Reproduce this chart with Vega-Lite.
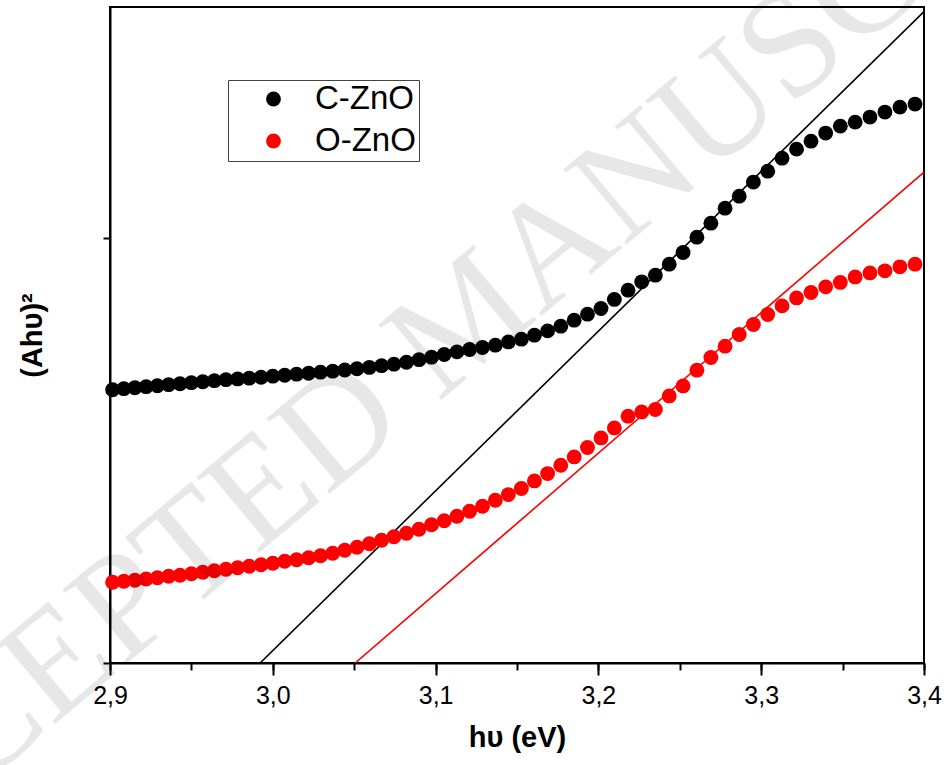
{
  "$schema": "https://vega.github.io/schema/vega-lite/v6.json",
  "width": 814,
  "height": 656,
  "autosize": "none",
  "padding": {"left": 110, "top": 7, "right": 22, "bottom": 102},
  "background": "white",
  "config": {
    "view": {"stroke": "black", "strokeWidth": 2},
    "font": "Liberation Sans"
  },
  "datasets": {
    "points": [
      {"series": "C-ZnO", "hv": 3.3945, "A": 131.46},
      {"series": "C-ZnO", "hv": 3.3852, "A": 130.75},
      {"series": "C-ZnO", "hv": 3.3760, "A": 129.58},
      {"series": "C-ZnO", "hv": 3.3668, "A": 128.40},
      {"series": "C-ZnO", "hv": 3.3577, "A": 127.22},
      {"series": "C-ZnO", "hv": 3.3486, "A": 126.28},
      {"series": "C-ZnO", "hv": 3.3396, "A": 124.64},
      {"series": "C-ZnO", "hv": 3.3306, "A": 122.75},
      {"series": "C-ZnO", "hv": 3.3217, "A": 120.87},
      {"series": "C-ZnO", "hv": 3.3128, "A": 118.75},
      {"series": "C-ZnO", "hv": 3.3040, "A": 115.69},
      {"series": "C-ZnO", "hv": 3.2952, "A": 113.11},
      {"series": "C-ZnO", "hv": 3.2865, "A": 109.81},
      {"series": "C-ZnO", "hv": 3.2778, "A": 106.99},
      {"series": "C-ZnO", "hv": 3.2691, "A": 103.46},
      {"series": "C-ZnO", "hv": 3.2605, "A": 100.16},
      {"series": "C-ZnO", "hv": 3.2520, "A": 96.56},
      {"series": "C-ZnO", "hv": 3.2435, "A": 93.81},
      {"series": "C-ZnO", "hv": 3.2350, "A": 91.22},
      {"series": "C-ZnO", "hv": 3.2266, "A": 89.65},
      {"series": "C-ZnO", "hv": 3.2182, "A": 87.69},
      {"series": "C-ZnO", "hv": 3.2098, "A": 85.51},
      {"series": "C-ZnO", "hv": 3.2016, "A": 83.39},
      {"series": "C-ZnO", "hv": 3.1933, "A": 82.05},
      {"series": "C-ZnO", "hv": 3.1851, "A": 80.64},
      {"series": "C-ZnO", "hv": 3.1769, "A": 79.22},
      {"series": "C-ZnO", "hv": 3.1688, "A": 78.12},
      {"series": "C-ZnO", "hv": 3.1607, "A": 77.11},
      {"series": "C-ZnO", "hv": 3.1527, "A": 76.16},
      {"series": "C-ZnO", "hv": 3.1447, "A": 75.53},
      {"series": "C-ZnO", "hv": 3.1367, "A": 74.75},
      {"series": "C-ZnO", "hv": 3.1288, "A": 74.21},
      {"series": "C-ZnO", "hv": 3.1209, "A": 73.74},
      {"series": "C-ZnO", "hv": 3.1131, "A": 73.18},
      {"series": "C-ZnO", "hv": 3.1053, "A": 72.56},
      {"series": "C-ZnO", "hv": 3.0975, "A": 71.93},
      {"series": "C-ZnO", "hv": 3.0898, "A": 71.34},
      {"series": "C-ZnO", "hv": 3.0821, "A": 70.75},
      {"series": "C-ZnO", "hv": 3.0744, "A": 70.28},
      {"series": "C-ZnO", "hv": 3.0668, "A": 69.93},
      {"series": "C-ZnO", "hv": 3.0593, "A": 69.53},
      {"series": "C-ZnO", "hv": 3.0517, "A": 69.22},
      {"series": "C-ZnO", "hv": 3.0442, "A": 68.92},
      {"series": "C-ZnO", "hv": 3.0368, "A": 68.64},
      {"series": "C-ZnO", "hv": 3.0293, "A": 68.40},
      {"series": "C-ZnO", "hv": 3.0220, "A": 68.16},
      {"series": "C-ZnO", "hv": 3.0146, "A": 67.93},
      {"series": "C-ZnO", "hv": 3.0073, "A": 67.69},
      {"series": "C-ZnO", "hv": 3.0000, "A": 67.46},
      {"series": "C-ZnO", "hv": 2.9928, "A": 67.22},
      {"series": "C-ZnO", "hv": 2.9855, "A": 66.99},
      {"series": "C-ZnO", "hv": 2.9784, "A": 66.82},
      {"series": "C-ZnO", "hv": 2.9712, "A": 66.64},
      {"series": "C-ZnO", "hv": 2.9641, "A": 66.40},
      {"series": "C-ZnO", "hv": 2.9570, "A": 66.16},
      {"series": "C-ZnO", "hv": 2.9500, "A": 65.93},
      {"series": "C-ZnO", "hv": 2.9430, "A": 65.69},
      {"series": "C-ZnO", "hv": 2.9360, "A": 65.46},
      {"series": "C-ZnO", "hv": 2.9291, "A": 65.22},
      {"series": "C-ZnO", "hv": 2.9222, "A": 64.99},
      {"series": "C-ZnO", "hv": 2.9153, "A": 64.75},
      {"series": "C-ZnO", "hv": 2.9085, "A": 64.52},
      {"series": "C-ZnO", "hv": 2.9016, "A": 64.28},
      {"series": "O-ZnO", "hv": 3.3945, "A": 93.81},
      {"series": "O-ZnO", "hv": 3.3852, "A": 93.18},
      {"series": "O-ZnO", "hv": 3.3760, "A": 92.24},
      {"series": "O-ZnO", "hv": 3.3668, "A": 91.76},
      {"series": "O-ZnO", "hv": 3.3577, "A": 90.82},
      {"series": "O-ZnO", "hv": 3.3486, "A": 89.51},
      {"series": "O-ZnO", "hv": 3.3396, "A": 88.47},
      {"series": "O-ZnO", "hv": 3.3306, "A": 87.15},
      {"series": "O-ZnO", "hv": 3.3217, "A": 85.88},
      {"series": "O-ZnO", "hv": 3.3128, "A": 84.00},
      {"series": "O-ZnO", "hv": 3.3040, "A": 81.98},
      {"series": "O-ZnO", "hv": 3.2952, "A": 79.62},
      {"series": "O-ZnO", "hv": 3.2865, "A": 77.27},
      {"series": "O-ZnO", "hv": 3.2778, "A": 74.52},
      {"series": "O-ZnO", "hv": 3.2691, "A": 71.86},
      {"series": "O-ZnO", "hv": 3.2605, "A": 68.87},
      {"series": "O-ZnO", "hv": 3.2520, "A": 65.18},
      {"series": "O-ZnO", "hv": 3.2435, "A": 62.82},
      {"series": "O-ZnO", "hv": 3.2350, "A": 59.62},
      {"series": "O-ZnO", "hv": 3.2266, "A": 59.06},
      {"series": "O-ZnO", "hv": 3.2182, "A": 58.05},
      {"series": "O-ZnO", "hv": 3.2098, "A": 55.29},
      {"series": "O-ZnO", "hv": 3.2016, "A": 52.94},
      {"series": "O-ZnO", "hv": 3.1933, "A": 50.68},
      {"series": "O-ZnO", "hv": 3.1851, "A": 48.47},
      {"series": "O-ZnO", "hv": 3.1769, "A": 46.52},
      {"series": "O-ZnO", "hv": 3.1688, "A": 44.56},
      {"series": "O-ZnO", "hv": 3.1607, "A": 42.82},
      {"series": "O-ZnO", "hv": 3.1527, "A": 41.04},
      {"series": "O-ZnO", "hv": 3.1447, "A": 39.62},
      {"series": "O-ZnO", "hv": 3.1367, "A": 38.28},
      {"series": "O-ZnO", "hv": 3.1288, "A": 36.87},
      {"series": "O-ZnO", "hv": 3.1209, "A": 35.69},
      {"series": "O-ZnO", "hv": 3.1131, "A": 34.52},
      {"series": "O-ZnO", "hv": 3.1053, "A": 33.46},
      {"series": "O-ZnO", "hv": 3.0975, "A": 32.52},
      {"series": "O-ZnO", "hv": 3.0898, "A": 31.46},
      {"series": "O-ZnO", "hv": 3.0821, "A": 30.52},
      {"series": "O-ZnO", "hv": 3.0744, "A": 29.69},
      {"series": "O-ZnO", "hv": 3.0668, "A": 28.87},
      {"series": "O-ZnO", "hv": 3.0593, "A": 28.05},
      {"series": "O-ZnO", "hv": 3.0517, "A": 27.22},
      {"series": "O-ZnO", "hv": 3.0442, "A": 26.52},
      {"series": "O-ZnO", "hv": 3.0368, "A": 25.81},
      {"series": "O-ZnO", "hv": 3.0293, "A": 25.22},
      {"series": "O-ZnO", "hv": 3.0220, "A": 24.75},
      {"series": "O-ZnO", "hv": 3.0146, "A": 24.28},
      {"series": "O-ZnO", "hv": 3.0073, "A": 23.93},
      {"series": "O-ZnO", "hv": 3.0000, "A": 23.46},
      {"series": "O-ZnO", "hv": 2.9928, "A": 23.11},
      {"series": "O-ZnO", "hv": 2.9855, "A": 22.75},
      {"series": "O-ZnO", "hv": 2.9784, "A": 22.40},
      {"series": "O-ZnO", "hv": 2.9712, "A": 22.05},
      {"series": "O-ZnO", "hv": 2.9641, "A": 21.69},
      {"series": "O-ZnO", "hv": 2.9570, "A": 21.34},
      {"series": "O-ZnO", "hv": 2.9500, "A": 20.99},
      {"series": "O-ZnO", "hv": 2.9430, "A": 20.64},
      {"series": "O-ZnO", "hv": 2.9360, "A": 20.40},
      {"series": "O-ZnO", "hv": 2.9291, "A": 20.05},
      {"series": "O-ZnO", "hv": 2.9222, "A": 19.76},
      {"series": "O-ZnO", "hv": 2.9153, "A": 19.46},
      {"series": "O-ZnO", "hv": 2.9085, "A": 19.22},
      {"series": "O-ZnO", "hv": 2.9016, "A": 18.99}
    ],
    "fits": [
      {"series": "C-ZnO", "hv": 2.9922, "A": 0},
      {"series": "C-ZnO", "hv": 3.4, "A": 153.2},
      {"series": "O-ZnO", "hv": 3.0506, "A": 0},
      {"series": "O-ZnO", "hv": 3.4, "A": 115.46}
    ],
    "watermark": [
      {"label": "ACCEPTED MANUSCRIPT"}
    ]
  },
  "resolve": {"axis": {"x": "independent", "y": "independent"}, "legend": {"color": "independent"}},
  "layer": [
    {
      "data": {"name": "fits"},
      "mark": {"type": "line", "strokeWidth": 1.6, "clip": true},
      "encoding": {
        "x": {
          "field": "hv", "type": "quantitative",
          "scale": {"domain": [2.9, 3.4], "nice": false, "zero": false},
          "axis": {
            "orient": "bottom",
            "values": [2.9, 2.95, 3.0, 3.05, 3.1, 3.15, 3.2, 3.25, 3.3, 3.35, 3.4],
            "labels": false, "domain": false, "grid": false,
            "tickSize": 7, "tickWidth": 2, "tickColor": "black", "title": null
          }
        },
        "y": {
          "field": "A", "type": "quantitative",
          "scale": {"domain": [0, 154.3], "nice": false, "zero": false},
          "axis": null
        },
        "color": {
          "field": "series", "type": "nominal",
          "scale": {"domain": ["C-ZnO", "O-ZnO"], "range": ["#000000", "#ff0000"]},
          "legend": null
        }
      }
    },
    {
      "data": {"name": "points"},
      "mark": {"type": "point", "filled": true, "size": 220, "opacity": 1, "strokeWidth": 0},
      "encoding": {
        "x": {
          "field": "hv", "type": "quantitative",
          "scale": {"domain": [2.9, 3.4], "nice": false, "zero": false},
          "axis": {
            "orient": "bottom",
            "values": [2.9, 3.0, 3.1, 3.2, 3.3, 3.4],
            "labelExpr": "replace(format(datum.value, '.1f'), '.', ',')",
            "grid": false,
            "domainColor": "black", "domainWidth": 2,
            "tickSize": 12, "tickWidth": 2, "tickColor": "black",
            "labelFontSize": 25, "labelColor": "black", "labelPadding": 8,
            "labelFlush": false,
            "title": "hυ (eV)",
            "titleFontSize": 29, "titleFontWeight": "bold", "titleColor": "black",
            "titlePadding": 15
          }
        },
        "y": {
          "field": "A", "type": "quantitative",
          "scale": {"domain": [0, 154.3], "nice": false, "zero": false},
          "axis": {
            "orient": "left",
            "values": [0, 100],
            "labels": false, "grid": false,
            "domainColor": "black", "domainWidth": 2,
            "tickSize": 7, "tickWidth": 2, "tickColor": "black",
            "title": "(Ahυ)²",
            "titleFontSize": 29, "titleFontWeight": "bold", "titleColor": "black",
            "titlePadding": 55
          }
        },
        "color": {
          "field": "series", "type": "nominal",
          "scale": {"domain": ["C-ZnO", "O-ZnO"], "range": ["#000000", "#ff0000"]},
          "legend": {
            "orient": "none", "legendX": 118, "legendY": 73,
            "title": null,
            "strokeColor": "#444444",
            "padding": 2.5, "symbolOffset": 26.5,
            "symbolType": "circle", "symbolSize": 220, "symbolOpacity": 1,
            "symbolStrokeWidth": 0,
            "labelFontSize": 33, "labelColor": "black", "labelOffset": 25,
            "rowPadding": 8
          }
        }
      }
    },
    {
      "data": {"name": "watermark"},
      "mark": {"type": "text", "font": "Liberation Serif", "fontSize": 150, "angle": -40, "align": "center", "baseline": "middle", "color": "black", "opacity": 0.09, "clip": false},
      "encoding": {
        "x": {"datum": 3.12, "type": "quantitative", "axis": null},
        "y": {"datum": 81, "type": "quantitative", "axis": null},
        "text": {"field": "label", "type": "nominal"}
      }
    }
  ]
}
